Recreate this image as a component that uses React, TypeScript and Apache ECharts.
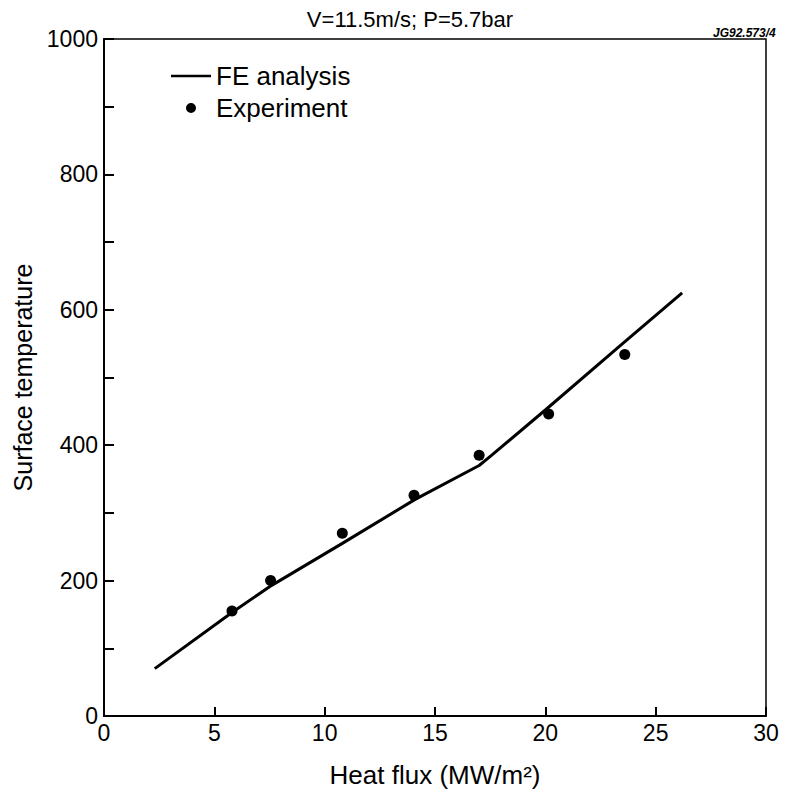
import React, { useEffect, useRef } from "react";
import * as echarts from "echarts";

const feX = [2.3, 5.8, 7.6, 10.8, 14.1, 17.0, 17.6, 20.0, 23.5, 26.2];
const feY = [70, 153, 193, 255, 320, 370, 386, 452, 550, 625];
const expX = [5.8, 7.55, 10.8, 14.05, 17.0, 20.15, 23.6];
const expY = [155, 200, 270, 326, 385, 446, 534];

const FONT = "Liberation Sans, Arial, Helvetica, sans-serif";

export default function App() {
  const ref = useRef<HTMLDivElement>(null);
  useEffect(() => {
    if (!ref.current) return;
    const chart = echarts.init(ref.current, null, { renderer: "svg" });
    chart.setOption({
      animation: false,
      backgroundColor: "#fff",
      textStyle: { fontFamily: FONT, color: "#000" },
      title: [
        {
          text: "V=11.5m/s; P=5.7bar",
          left: 405,
          top: 3,
          textAlign: "center",
          textStyle: { fontFamily: FONT, fontSize: 22, fontWeight: "normal", color: "#000" },
        },
        {
          text: "JG92.573/4",
          left: 708,
          top: 22,
          textStyle: { fontFamily: FONT, fontSize: 12, fontWeight: "bold", fontStyle: "italic", color: "#000" },
        },
      ],
      grid: {
        left: 104,
        right: 20,
        top: 39,
        bottom: 81,
        show: true,
        borderColor: "#000",
        borderWidth: 1.5,
      },
      xAxis: {
        type: "value",
        min: 0,
        max: 30,
        interval: 5,
        name: "Heat flux (MW/m²)",
        nameLocation: "middle",
        nameGap: 46,
        nameTextStyle: { fontFamily: FONT, fontSize: 26, color: "#000" },
        axisLine: { show: true, lineStyle: { color: "#000", width: 2 } },
        axisTick: { show: true, inside: true, length: 9, lineStyle: { color: "#000", width: 2 } },
        axisLabel: { fontFamily: FONT, fontSize: 23, color: "#000", margin: 5 },
        splitLine: { show: false },
      },
      yAxis: {
        type: "value",
        min: 0,
        max: 1000,
        interval: 100,
        name: "Surface temperature",
        nameLocation: "middle",
        nameGap: 68,
        nameTextStyle: { fontFamily: FONT, fontSize: 25, color: "#000" },
        axisLine: { show: true, lineStyle: { color: "#000", width: 2 } },
        axisTick: { show: true, inside: true, length: 10, lineStyle: { color: "#000", width: 2 } },
        axisLabel: {
          fontFamily: FONT,
          fontSize: 23,
          color: "#000",
          margin: 6,
          formatter: (v: number) => (v % 200 === 0 ? String(v) : ""),
        },
        splitLine: { show: false },
      },
      legend: {
        left: 166,
        top: 58,
        orient: "vertical",
        itemGap: 6,
        itemWidth: 40,
        itemHeight: 24,
        textStyle: { fontFamily: FONT, fontSize: 26, color: "#000" },
        data: [
          { name: "FE analysis", icon: "path://M0,11 L40,11 L40,13.5 L0,13.5 Z" },
          { name: "Experiment", icon: "path://M20,7 A5,5 0 1,1 20,17 A5,5 0 1,1 20,7 Z M0,0 L0.01,0 Z M40,24 L39.99,24 Z" },
        ],
      },
      series: [
        {
          name: "FE analysis",
          type: "line",
          data: feX.map((x, i) => [x, feY[i]]),
          showSymbol: false,
          symbol: "none",
          lineStyle: { color: "#000", width: 3 },
          itemStyle: { color: "#000" },
        },
        {
          name: "Experiment",
          type: "scatter",
          data: expX.map((x, i) => [x, expY[i]]),
          symbol: "circle",
          symbolSize: 11,
          itemStyle: { color: "#000", opacity: 1 },
        },
      ],
    });
    return () => chart.dispose();
  }, []);
  return <div ref={ref} style={{ width: 786, height: 797, position: "absolute", left: 0, top: 0 }} />;
}
